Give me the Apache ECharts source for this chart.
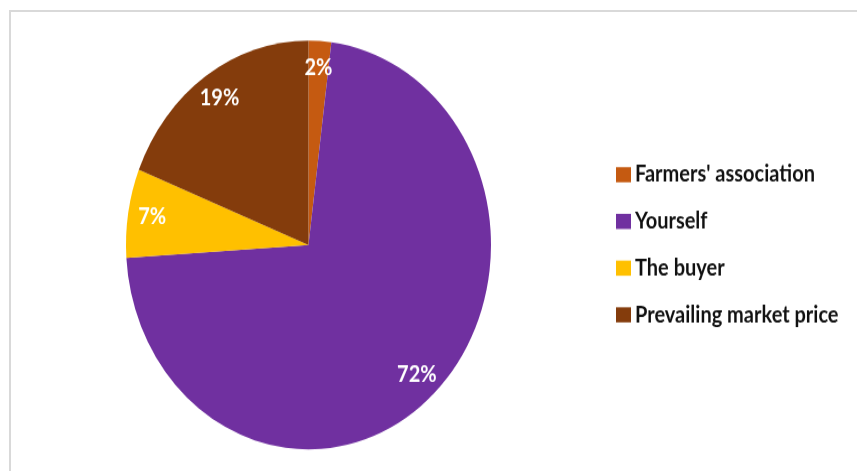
<!DOCTYPE html>
<html>
<head>
<meta charset="utf-8">
<script src="https://cdn.jsdelivr.net/npm/echarts@6/dist/echarts.min.js"></script>
<style>
  html, body { margin: 0; padding: 0; background: #ffffff; width: 857px; height: 471px; overflow: hidden; }
  #frame { position: absolute; left: 9px; top: 10px; width: 900px; height: 500px;
           border-left: 2px solid #d9d9d9; border-top: 2px solid #d9d9d9; }
  #chart { position: absolute; left: 0; top: 0; width: 857px; height: 421px;
           transform: scaleY(1.12); transform-origin: 0 0; }
</style>
</head>
<body>
<div id="frame"></div>
<div id="chart"></div>
<script>
// Data
const categories = ["Farmers' association", "Yourself", "The buyer", "Prevailing market price"];
const values = [2, 72, 7, 19];
const colors = ["#C55A11", "#7030A0", "#FFC000", "#843C0C"];

const chart = echarts.init(document.getElementById('chart'), null, { renderer: 'canvas' });

const pieData = categories.map((name, i) => ({ name: name, value: values[i], itemStyle: { color: colors[i] } }));
const labelData = categories.map((name, i) => ({ name: name, value: values[i], itemStyle: { color: 'rgba(0,0,0,0)' } }));

const center = [308.5, 218.75];
const R = 182.5;

chart.setOption({
  animation: false,
  backgroundColor: 'transparent',
  legend: {
    orient: 'vertical',
    left: 616,
    top: 146,
    padding: 0,
    icon: 'rect',
    itemWidth: 15,
    itemHeight: 13.5,
    itemGap: 21.7,
    selectedMode: false,
    textStyle: { fontFamily: 'Lato', fontWeight: 'bold', fontSize: 20, lineHeight: 20, color: '#111111', padding: [0, 0, 0, -1] },
    data: categories.map((name, i) => ({ name: name, itemStyle: { color: colors[i] } }))
  },
  series: [
    {
      type: 'pie',
      center: center,
      radius: R,
      startAngle: 90,
      clockwise: true,
      silent: true,
      label: { show: false },
      labelLine: { show: false },
      itemStyle: { borderWidth: 0 },
      data: pieData
    },
    {
      type: 'pie',
      center: center,
      radius: [128, R],
      startAngle: 90,
      clockwise: true,
      silent: true,
      label: {
        show: true,
        position: 'inside',
        formatter: '{c}%',
        fontFamily: 'Lato',
        fontWeight: 'bold',
        fontSize: 20,
        color: '#ffffff'
      },
      labelLine: { show: false },
      itemStyle: { borderWidth: 0 },
      data: labelData
    }
  ]
});
</script>
</body>
</html>
